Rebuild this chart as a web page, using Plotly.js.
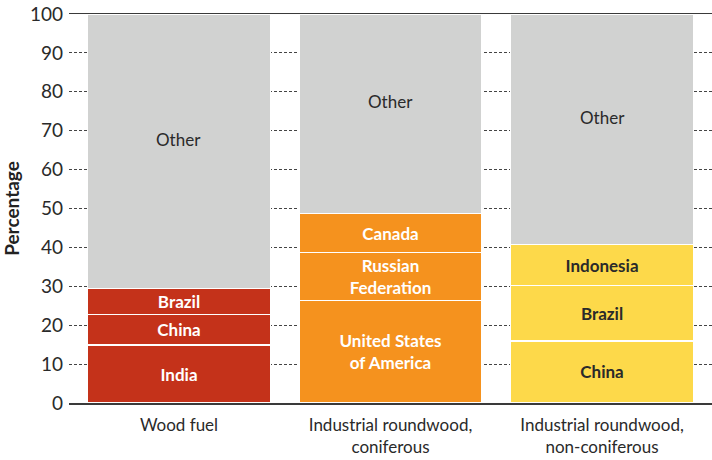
<!DOCTYPE html>
<html>
<head>
<meta charset="utf-8">
<script src="https://cdn.plot.ly/plotly-3.0.1.min.js"></script>
<style>html,body{margin:0;padding:0;background:#fff;}#chart{width:712px;height:460px;}</style>
</head>
<body>
<div id="chart"></div>
<script>
var categories = ["Wood fuel", "Industrial roundwood,<br>coniferous", "Industrial roundwood,<br>non-coniferous"];

// Segment 1 (bottom), segment 2, segment 3 for each category
var seg1Labels = ["India", "United States<br>of America", "China"];
var seg1Values = [14.9, 26.3, 16.0];
var seg2Labels = ["China", "Russian<br>Federation", "Brazil"];
var seg2Values = [7.8, 12.4, 14.2];
var seg3Labels = ["Brazil", "Canada", "Indonesia"];
var seg3Values = [6.7, 10.0, 10.5];
var otherValues = [70.6, 51.3, 59.3];

var seriesColors = ["#c4321a", "#f5921e", "#fdd94a"];
var labelColors = ["#ffffff", "#ffffff", "#2a2a2a"];
var otherColor = "#d1d2d1";

var FONT = "Lato, 'Open Sans', sans-serif";

function segTrace(vals, labels) {
  return {
    type: "bar",
    x: categories,
    y: vals,
    text: labels,
    texttemplate: "%{text}",
    textposition: "inside",
    insidetextanchor: "middle",
    textangle: 0,
    constraintext: "none",
    insidetextfont: {family: FONT, size: 17, color: labelColors, weight: 700},
    marker: {color: seriesColors, line: {color: "#ffffff", width: 1.5}},
    width: 0.865,
    hoverinfo: "skip"
  };
}

var traces = [
  segTrace(seg1Values, seg1Labels),
  segTrace(seg2Values, seg2Labels),
  segTrace(seg3Values, seg3Labels),
  {
    type: "bar",
    x: categories,
    y: otherValues,
    marker: {color: otherColor, line: {color: "#ffffff", width: 1.5}},
    width: 0.865,
    hoverinfo: "skip"
  }
];

var annotations = categories.map(function (c, i) {
  var base = seg1Values[i] + seg2Values[i] + seg3Values[i];
  return {
    x: c, y: base + otherValues[i] / 2, xref: "x", yref: "y",
    text: "Other", showarrow: false, yshift: 12,
    font: {family: FONT, size: 17, color: "#2a2a2a"}
  };
});

var layout = {
  width: 712, height: 460,
  margin: {l: 69, r: 0, t: 14, b: 57},
  barmode: "stack",
  bargap: 0.135,
  showlegend: false,
  paper_bgcolor: "#ffffff",
  plot_bgcolor: "#ffffff",
  font: {family: FONT, color: "#2a2a2a"},
  xaxis: {
    type: "category",
    range: [-0.52, 2.52],
    showline: true, mirror: "all", linecolor: "#3a3a3a", linewidth: 1.5,
    ticks: "", showgrid: false, ticklabelstandoff: 6,
    tickfont: {family: FONT, size: 17, color: "#2a2a2a"}
  },
  yaxis: {
    range: [0, 100],
    tickvals: [0, 10, 20, 30, 40, 50, 60, 70, 80, 90, 100],
    showline: false, zeroline: false,
    showgrid: true, gridcolor: "#444444", gridwidth: 1, griddash: "3px,2px",
    ticks: "", ticklabelstandoff: 5,
    tickfont: {family: FONT, size: 19, color: "#2a2a2a"},
    title: {text: "Percentage", standoff: 8, font: {family: FONT, size: 19, color: "#222", weight: 700}}
  },
  annotations: annotations
};

Plotly.newPlot("chart", traces, layout, {displayModeBar: false, staticPlot: true});
</script>
</body>
</html>
